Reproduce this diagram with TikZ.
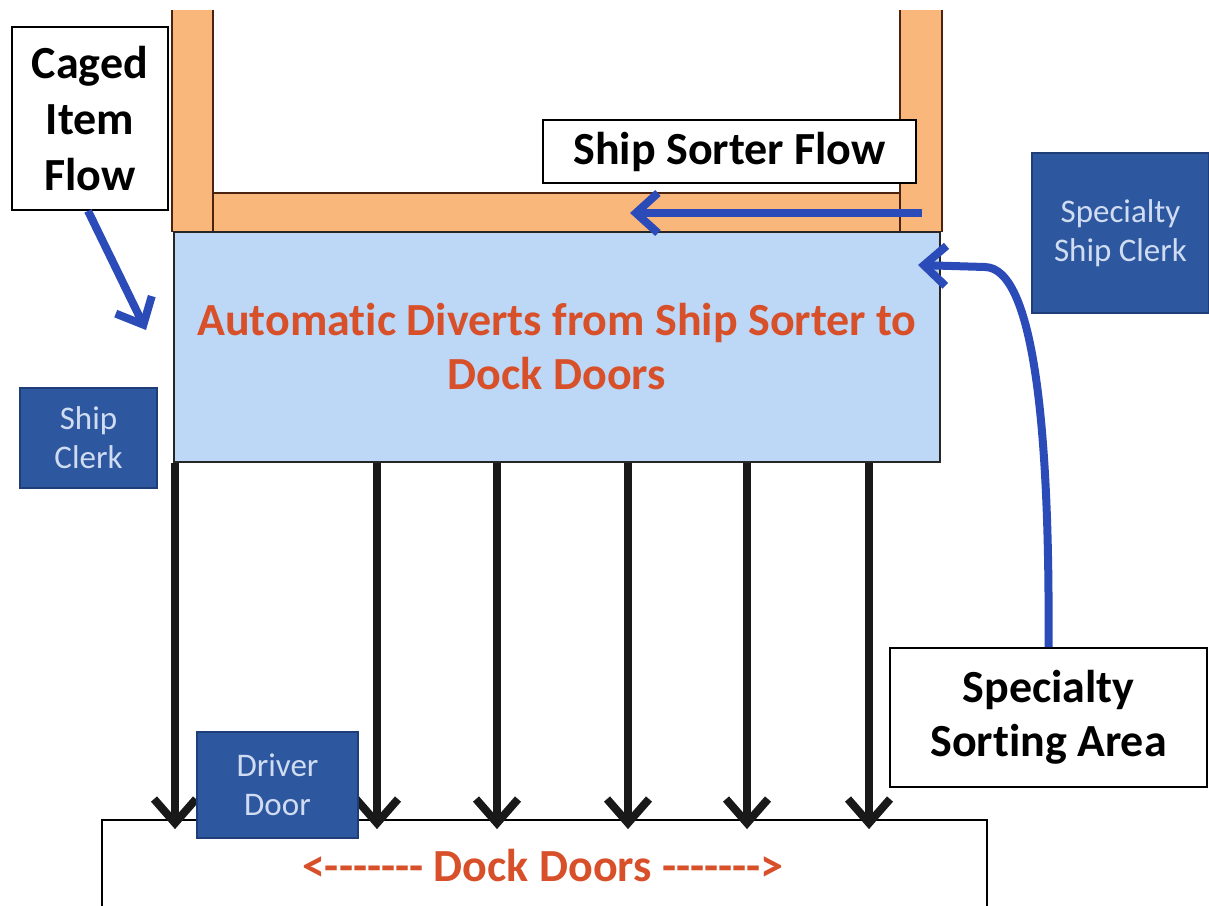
\documentclass[tikz,border=0pt]{standalone}
\usepackage{fontspec}
\setmainfont{Carlito}[Ligatures={TeX,NoCommon},Contextuals=AlternateOff]
\usetikzlibrary{arrows.meta,calc}
\definecolor{conveyor}{HTML}{F9B77B}
\definecolor{conveyoredge}{HTML}{4A2410}
\definecolor{divertfill}{HTML}{BDD7F7}
\definecolor{alertred}{HTML}{D8502A}
\definecolor{staffblue}{HTML}{2D579E}
\definecolor{staffedge}{HTML}{1F3E78}
\definecolor{stafftext}{HTML}{D0DCF2}
\definecolor{flowblue}{HTML}{2A4BB8}
% a run of plain hyphens, kept apart so they do not join into dashes
\newcommand\hyphenrun{-\kern0pt-\kern0pt-\kern0pt-\kern0pt-\kern0pt-\kern0pt-}
% keeps t and i as separate glyphs
\newcommand\tisplit{t\kern0pt i}
\begin{document}
\begin{tikzpicture}[x=1pt,y=-1pt,
  labelbox/.style={draw=black,line width=1.8pt,fill=white,align=center,
    inner sep=0pt,font=\fontsize{46}{54}\selectfont\bfseries},
  staffbox/.style={draw=staffedge,line width=1.5pt,fill=staffblue,text=stafftext,
    align=center,inner sep=0pt,font=\fontsize{33}{39}\selectfont},
  flowarrow/.style={draw=flowblue,line width=8pt,
    -{Straight Barb[length=22pt,width=40pt]}},
  doorarrow/.style={draw=black!90,line width=8pt,
    -{Straight Barb[length=24pt,width=42pt]}},
  rail/.style={draw=conveyoredge,line width=2.5pt}]
\useasboundingbox (0,0) rectangle (1209,905);

% conveyor frame: two uprights and the ship sorter lane
\fill[conveyor] (172,10) rectangle (213,232);
\fill[conveyor] (900,10) rectangle (942,232);
\fill[conveyor] (213,193) rectangle (900,232);
\draw[rail] (172,10) -- (172,232);
\draw[rail] (213,10) -- (213,232);
\draw[rail] (900,10) -- (900,232);
\draw[rail] (942,10) -- (942,232);
\draw[rail] (213,193) -- (900,193);

% divert area
\node[draw=black!85,line width=1.8pt,fill=divertfill,minimum width=766pt,
  minimum height=230pt,inner sep=0pt,text=alertred,align=center,
  font=\fontsize{46}{54}\selectfont\bfseries] (divert) at (557,347)
  {Automa\tisplit c Diverts from Ship Sorter to\\Dock Doors};

% dock doors
\node[draw=black,line width=1.8pt,fill=white,minimum width=885pt,
  minimum height=110pt,inner sep=0pt] (dock) at (544.5,875) {};
\node[text=alertred,font=\fontsize{46}{54}\selectfont\bfseries] (docklabel)
  at (543,866) {<\hyphenrun{} Dock Doors \hyphenrun>};

% diverts down to the doors
\foreach \x in {175,377,497,628,747,869}
  \draw[doorarrow] (divert.south -| \x,0) -- ($(dock.north -| \x,0)+(0,10)$);

% labels
\node[labelbox,minimum width=156pt,minimum height=183pt] (caged) at (90,118.5)
  {Caged\\[2pt]Item\\[2pt]Flow};
\node[labelbox,minimum width=373pt,minimum height=63pt] (sorterflow) at (729.5,151.5)
  {Ship Sorter Flow};
\node[labelbox,minimum width=317pt,minimum height=139pt] (sortarea) at (1048.5,717.5)
  {Specialty\\Sor\tisplit ng Area};

% staff positions
\node[staffbox,minimum width=177pt,minimum height=160pt] (specclerk) at (1120.5,233)
  {Specialty\\Ship Clerk};
\node[staffbox,minimum width=137pt,minimum height=100pt] (shipclerk) at (88.5,438)
  {Ship\\Clerk};
\node[staffbox,minimum width=161pt,minimum height=106pt] (driver) at (277.5,785)
  {Driver\\Door};

% flow arrows
\coordinate (cagedtip) at (146,330);
\coordinate (lanestart) at (922,213);
\coordinate (laneend) at (630,213);
\coordinate (specialtip) at (918,265);
\draw[flowarrow] ([xshift=-2pt]caged.south) -- (cagedtip);
\draw[flowarrow] (lanestart) -- (laneend);
\draw[flowarrow] (sortarea.north) .. controls (1050,430) and (1034,268) .. (985,267)
  -- (specialtip);
\end{tikzpicture}
\end{document}
